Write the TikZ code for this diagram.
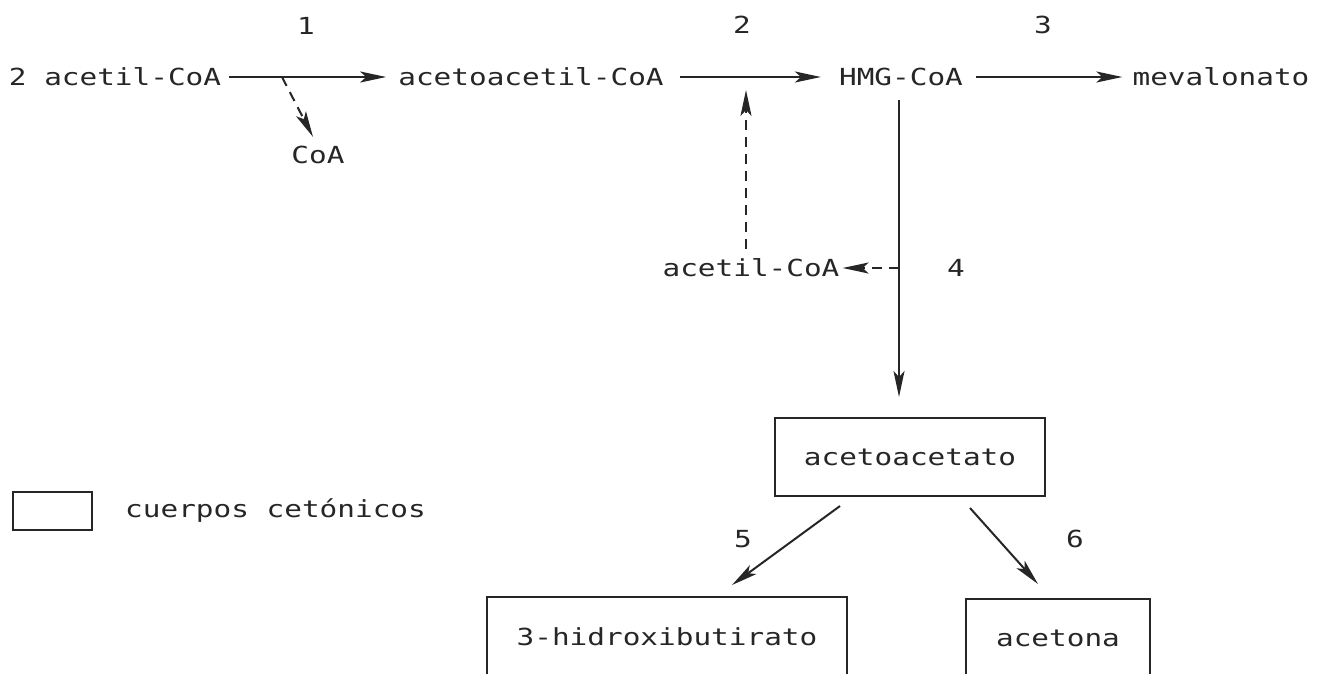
\documentclass[tikz,border=0pt]{standalone}
\usepackage{fontspec}
\setmainfont[FakeStretch=1.25]{DejaVu Sans Mono}
\usetikzlibrary{arrows.meta}
\begin{document}
\begin{tikzpicture}[x=1pt,y=-1pt,
  every node/.style={font=\fontsize{23.5}{26}\selectfont, inner sep=0pt, text=black!85},
  arr/.style={line width=2pt, draw=black!85, -{Stealth[length=26pt,width=11pt,inset=6pt]}},
  darr/.style={arr, dash pattern=on 10pt off 7pt},
  kbox/.style={draw=black!85, line width=2pt, minimum height=78pt},
  lbl/.style={}]
\useasboundingbox (0,0) rectangle (1319,673);
\clip (0,0) rectangle (1319,673);
% main row
\node (n1) at (115,77) {2 acetil-CoA};
\node (n2) at (531,77) {acetoacetil-CoA};
\node (n3) at (901,77) {HMG-CoA};
\node (n4) at (1221,77) {mevalonato};
\node (coa) at (318,155) {CoA};
\node (ac2) at (751,268) {acetil-CoA};
% step labels
\node[lbl] (l1) at (306,26) {1};
\node[lbl] (l2) at (742,25) {2};
\node[lbl] (l3) at (1043,25) {3};
\node[lbl] (l4) at (956,268) {4};
\node[lbl] (l5) at (743,539) {5};
\node[lbl] (l6) at (1075,539) {6};
% boxes
\node[kbox, minimum width=270pt] (aa) at (910,457) {acetoacetato};
\node[kbox, minimum width=360pt, minimum height=80pt] (hb) at (667,637) {3-hidroxibutirato};
\node[kbox, minimum width=184pt] (ac) at (1058,638) {acetona};
% legend
\node[draw=black!85, line width=2.2pt, minimum width=79pt, minimum height=38pt] (leg) at (52.5,511) {};
\node[anchor=west] (legt) at (125,511) {cuerpos cetónicos};
% connectors
\draw[arr] ([xshift=8pt]n1.east) -- ([xshift=-12pt]n2.west);
\coordinate (b1) at (282,77);
\draw[darr] (b1) -- ([xshift=-5pt,yshift=9pt]coa.north);
\draw[arr] ([xshift=16pt]n2.east) -- ([xshift=-18pt]n3.west);
\draw[arr] ([xshift=13pt]n3.east) -- ([xshift=-10pt]n4.west);
\coordinate (top) at ([xshift=-2pt,yshift=-14pt]n3.south);
\draw[arr] (top) -- ([yshift=20pt]aa.north -| top);
\coordinate (j) at (top |- ac2.east);
\draw[darr] (j) -- ([xshift=3pt]ac2.east);
\coordinate (m2) at (746,90);
\draw[darr] ([xshift=-5pt,yshift=10pt]ac2.north) -- (m2);
\draw[arr] ([xshift=-70pt,yshift=-9pt]aa.south) -- ([xshift=65pt,yshift=11pt]hb.north);
\draw[arr] ([xshift=60pt,yshift=-11pt]aa.south) -- ([xshift=-20pt,yshift=14pt]ac.north);
\end{tikzpicture}
\end{document}
